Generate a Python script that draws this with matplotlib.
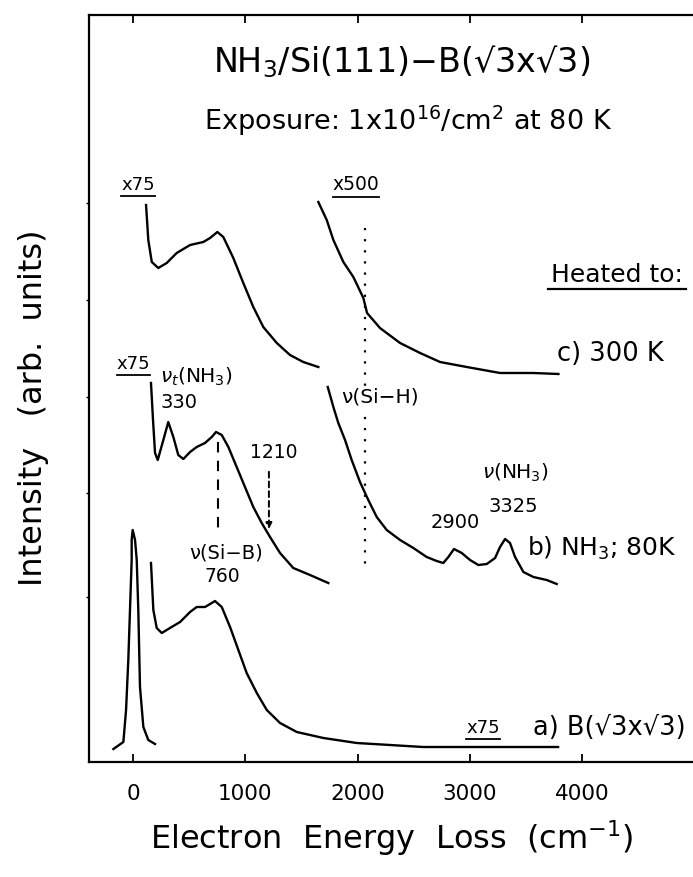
import numpy as np
import matplotlib
matplotlib.use('Agg')
import matplotlib.pyplot as plt

plt.rcParams['font.family'] = ['DejaVu Sans']
plt.rcParams['mathtext.fontset'] = 'dejavusans'

# ---- данные (x: см^-1, y: произвольные единицы) ----
# a) B(√3x√3): упругий пик (без масштаба)
a_el_x = [-175, -86, -62, -42, -27, -12, -12, -3, 18, 33, 47, 62, 92, 136, 196]
a_el_y = [13, 20, 52, 102, 152, 202, 222, 232, 222, 202, 152, 75, 35, 22, 18]
# a) потери, x75
a_x = [160, 181, 211, 256, 329, 419, 508, 567, 641, 701, 730, 790, 864, 938,
       1012, 1102, 1191, 1309, 1458, 1695, 1992, 2288, 2582, 3785]
a_y = [199, 152, 134, 129, 134, 140, 150, 155, 155, 159, 161, 155, 135, 112,
       89, 69, 52, 39, 30, 24, 19, 17, 15, 15]

# b) NH3; 80K, x75
b1_x = [160, 178, 196, 220, 270, 314, 359, 403, 448, 508, 567, 641, 701, 739,
        790, 849, 923, 997, 1071, 1146, 1220, 1309, 1427, 1576, 1739]
b1_y = [379, 342, 309, 302, 322, 340, 325, 307, 303, 310, 315, 319, 325, 330,
        327, 315, 295, 275, 255, 239, 225, 209, 194, 187, 179]
# b) x500
b2_x = [1734, 1784, 1828, 1888, 1947, 2021, 2095, 2170, 2259, 2378, 2496, 2615,
        2704, 2763, 2808, 2858, 2927, 3001, 3075, 3150, 3224, 3268, 3313, 3357,
        3402, 3476, 3565, 3684, 3773]
b2_y = [375, 355, 339, 322, 302, 280, 262, 245, 232, 222, 214, 205,
        201, 199, 205, 213, 209, 202, 197, 198, 204, 215, 223, 219,
        205, 190, 185, 182, 178]

# c) 300 K, x75
c1_x = [116, 136, 167, 225, 300, 389, 508, 626, 686, 751, 804, 893, 982, 1071,
        1160, 1280, 1398, 1516, 1650]
c1_y = [557, 522, 500, 494, 499, 509, 517, 520, 524, 530, 525, 504, 479, 455,
        435, 419, 407, 400, 395]
# c) x500
c2_x = [1650, 1725, 1784, 1873, 1962, 2051, 2084, 2199, 2378, 2556, 2734, 2972,
        3268, 3565, 3788]
c2_y = [560, 542, 522, 500, 485, 464, 449, 434, 419, 409, 400, 395,
        389, 389, 388]

x_ticks = [0, 1000, 2000, 3000, 4000]
si_b = 760      # ν(Si-B)
peak_1210 = 1210
si_h = 2066     # ν(Si-H)

fig = plt.figure(figsize=(6.93, 8.77), dpi=100)
ax = fig.add_axes([89 / 693, 115 / 877, 0.9224, 747 / 877])
ax.set_xlim(-392, 5300)
ax.set_ylim(0, 747)
ax.set_autoscale_on(False)

lw = 1.7
ax.plot(a_el_x, a_el_y, color='black', lw=lw)
ax.plot(a_x, a_y, color='black', lw=lw)
ax.plot(b1_x, b1_y, color='black', lw=lw)
ax.plot(b2_x, b2_y, color='black', lw=lw)
ax.plot(c1_x, c1_y, color='black', lw=lw)
ax.plot(c2_x, c2_y, color='black', lw=lw)

# штриховые линии
ax.plot([si_b, si_b], [320, 232], color='black', lw=1.5, dashes=(5, 4))
ax.annotate('', xy=(peak_1210, 230), xytext=(peak_1210, 293),
            arrowprops=dict(arrowstyle='-|>', color='black', lw=1.4,
                            linestyle=(0, (3, 2)), mutation_scale=9))
ax.plot([si_h, si_h], [534, 195], color='black', lw=1.6, linestyle=(0, (1, 4)))

big = dict(color='black', fontsize=18, va='center')
small = dict(color='black', fontsize=14, va='center')
t_c75 = ax.text(45, 577, 'x75', ha='center', fontsize=13, va='center')
t_500 = ax.text(1986, 577, 'x500', ha='center', fontsize=13.5, va='center')
t_heat = ax.text(4310, 487, 'Heated to:', ha='center', **big)
ax.text(3776, 408, 'c) 300 K', ha='left', fontsize=18.5, va='center')
t_b75 = ax.text(4, 398, 'x75', ha='center', fontsize=13, va='center')
ax.text(240, 385, r'$\nu_t$(NH$_3$)', ha='left', fontsize=14.5, va='center')
ax.text(247, 360, '330', ha='left', **small)
ax.text(1256, 309, '1210', ha='center', fontsize=13.5, va='center')
ax.text(828, 209, 'ν(Si−B)', ha='center', **small)
ax.text(793, 186, '760', ha='center', fontsize=13.5, va='center')
ax.text(2199, 365, 'ν(Si−H)', ha='center', fontsize=14.5, va='center',
        bbox=dict(facecolor='white', edgecolor='none', pad=1))
ax.text(3402, 289, r'$\nu$(NH$_3$)', ha='center', fontsize=14.5, va='center')
ax.text(3384, 256, '3325', ha='center', fontsize=14, va='center')
ax.text(2867, 239, '2900', ha='center', fontsize=14, va='center')
ax.text(3508, 214, r'b) NH$_3$; 80K', ha='left', **big)
t_a75 = ax.text(3117, 34, 'x75', ha='center', fontsize=13, va='center')
ax.text(3562, 34, 'a) B(√3x√3)', ha='left', fontsize=18.5, va='center')

# подчёркивания по реальным размерам текста
fig.canvas.draw()
inv = ax.transData.inverted()
for t, ext in [(t_c75, 0), (t_500, 0), (t_b75, 0), (t_a75, 0), (t_heat, 3)]:
    bb = t.get_window_extent()
    (x0, y0), (x1, _) = inv.transform([(bb.x0 - ext, bb.y0 - 2), (bb.x1 + ext, bb.y0 - 2)])
    ax.plot([x0, x1], [y0, y0], color='black', lw=1.6 if ext else 1.3, clip_on=False)

ax.set_xticks(x_ticks)
ax.set_xticklabels([str(v) for v in x_ticks], fontsize=15.5)
ax.set_yticks([165, 269, 365, 462, 559])
ax.set_yticklabels([])
ax.tick_params(axis='x', direction='in', length=6, width=1.3, top=True, pad=16)
ax.tick_params(axis='y', direction='out', length=2, width=1)
for s in ax.spines.values():
    s.set_linewidth(1.6)

fig.text(402 / 693, 1 - 72 / 877, r'NH$_3$/Si(111)−B(√3x√3)', ha='center',
         va='baseline', fontsize=24)
fig.text(408 / 693, 1 - 130 / 877, r'Exposure: 1x10$^{16}$/cm$^2$ at 80 K',
         ha='center', va='baseline', fontsize=19.5)
fig.text(34 / 693, 1 - 408 / 877, 'Intensity   (arb.  units)', rotation=90,
         ha='center', va='center', fontsize=23)
fig.text(392 / 693, 1 - 838 / 877, r'Electron  Energy  Loss  (cm$^{-1}$)',
         ha='center', va='center', fontsize=23)

fig.savefig('out.png', dpi=100)
